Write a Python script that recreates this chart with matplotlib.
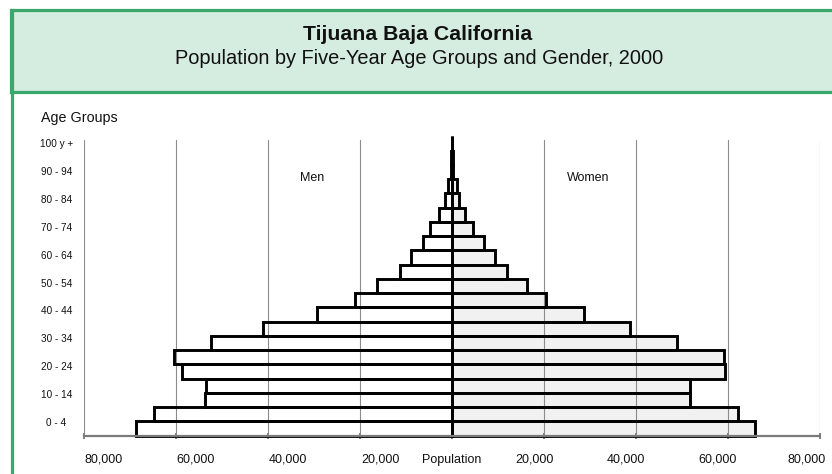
import numpy as np
import matplotlib
matplotlib.use("Agg")
import matplotlib.pyplot as plt
from matplotlib.patches import Rectangle
from matplotlib.lines import Line2D
from matplotlib.transforms import ScaledTranslation

plt.rcParams['font.family'] = ['Liberation Sans', 'DejaVu Sans']

age_groups = ['0 - 4', '5 - 9', '10 - 14', '15 - 19', '20 - 24', '25 - 29', '30 - 34',
              '35 - 39', '40 - 44', '45 - 49', '50 - 54', '55 - 59', '60 - 64', '65 - 69',
              '70 - 74', '75 - 79', '80 - 84', '85 - 89', '90 - 94', '95 - 99', '100 y +']
men = [68800, 64800, 53700, 53400, 58700, 60500, 52400, 41000, 29400, 21000, 16300,
       11400, 9000, 6400, 4700, 2900, 1600, 900, 300, 120, 60]
women = [65900, 62100, 51700, 51700, 59300, 59200, 49000, 38600, 28700, 20500, 16300,
         12000, 9400, 6900, 4500, 2900, 1600, 1000, 300, 120, 60]
tick_values = [-80000, -60000, -40000, -20000, 0, 20000, 40000, 60000, 80000]
tick_labels = ['80,000', '60,000', '40,000', '20,000', 'Population',
               '20,000', '40,000', '60,000', '80,000']
ylabel_groups = age_groups[::2]

W, H = 832, 474
fig = plt.figure(figsize=(W / 100, H / 100), dpi=100)
fig.patch.set_facecolor('white')

green = '#38a96b'
fill = '#d5ece0'
# title box
fig.patches.append(Rectangle((11 / W, 1 - 91.5 / H), (W + 10 - 11) / W, (91.5 - 9.5) / H,
                             transform=fig.transFigure, facecolor=fill, edgecolor=green,
                             linewidth=2.3, zorder=0))
# outer left frame line
fig.lines.append(Line2D([11.5 / W, 11.5 / W], [0, 1 - 9.5 / H], transform=fig.transFigure,
                        color=green, linewidth=2.3))

fig.text(418 / W, 1 - 35 / H, 'Tijuana Baja California', ha='center', va='center',
         fontsize=15.3, fontweight='bold', color='#111111')
fig.text(419 / W, 1 - 59 / H, 'Population by Five-Year Age Groups and Gender, 2000',
         ha='center', va='center', fontsize=14.4, color='#111111')
fig.text(41 / W, 1 - 118 / H, 'Age Groups', ha='left', va='center', fontsize=10.3,
         color='#111111')

ax_left, ax_right = 84, 820
ax_top, ax_bot = 140, 435.7
ax = fig.add_axes([ax_left / W, 1 - ax_bot / H, (ax_right - ax_left) / W, (ax_bot - ax_top) / H])
ax.set_facecolor('none')

y = np.arange(len(age_groups))
men_arr = -np.array(men)
women_arr = np.array(women)

# fills
ax.barh(y, men_arr, height=1.0, color='white', edgecolor='none', zorder=1, clip_on=False)
ax.barh(y, women_arr, height=1.0, color='#f1f1f1', edgecolor='none', zorder=1, clip_on=False)
# gridlines
for v in tick_values:
    ax.axvline(v, color='#8c8c8c', linewidth=0.8, zorder=2)
# edges
ax.barh(y, men_arr, height=1.0, fill=False, edgecolor='black', linewidth=2.1, zorder=3,
        clip_on=False)
ax.barh(y, women_arr, height=1.0, fill=False, edgecolor='black', linewidth=2.1, zorder=3,
        clip_on=False)

ax.set_xlim(-80000, 80000)
ax.set_ylim(-0.5, 20.25)

for s in ['top', 'right', 'left']:
    ax.spines[s].set_visible(False)
ax.spines['bottom'].set_color('#7a7a7a')
ax.spines['bottom'].set_linewidth(1.6)
ax.spines['bottom'].set_zorder(4)

ax.set_xticks(tick_values)
ax.set_xticklabels(tick_labels, fontsize=9, color='#111111')
ax.tick_params(axis='x', direction='inout', length=4, width=1.2, color='#6a6a6a', pad=11)
offsets = [20, 20, 20, 20, 0, -10, -10, -10, -13]
for lab, dx in zip(ax.get_xticklabels(), offsets):
    lab.set_transform(lab.get_transform() + ScaledTranslation(dx / 100, 0, fig.dpi_scale_trans))

ytick_pos = np.linspace(0.48, 20.02, len(ylabel_groups))
ax.set_yticks(ytick_pos)
ax.set_yticklabels(ylabel_groups, fontsize=7.2, color='#111111', ha='center')
ax.tick_params(axis='y', length=0, pad=20)

ax.text(-30500, 17.55, 'Men', ha='center', va='center', fontsize=9, color='#111111')
ax.text(29500, 17.55, 'Women', ha='center', va='center', fontsize=9, color='#111111')

fig.savefig('out.png', dpi=100, facecolor='white')
